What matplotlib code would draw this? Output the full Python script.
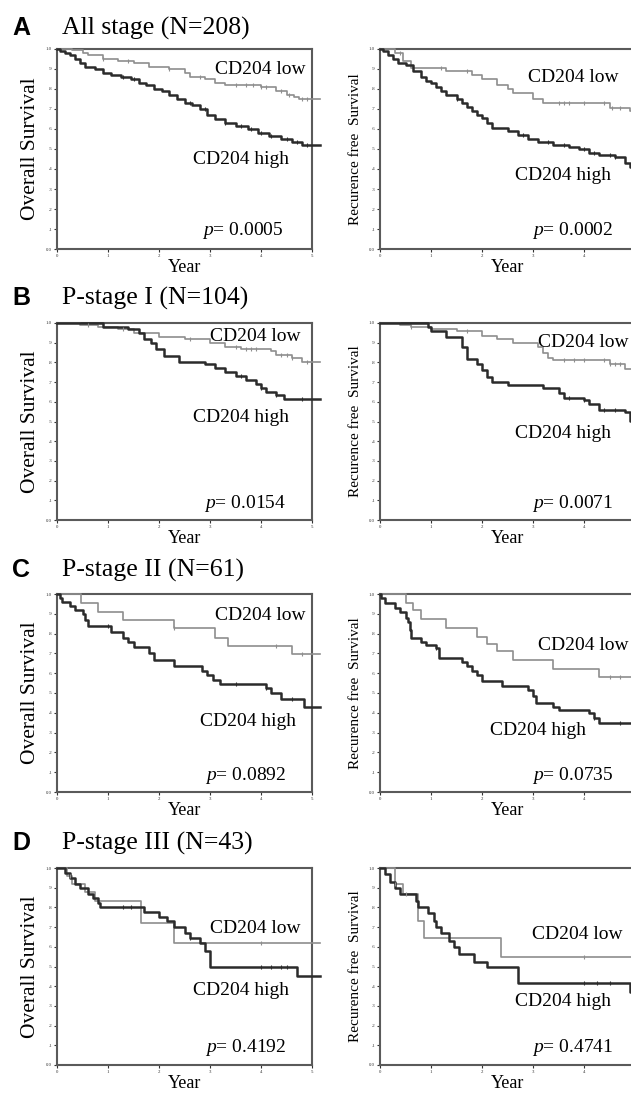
import numpy as np
import matplotlib
matplotlib.use("Agg")
import matplotlib.pyplot as plt

plt.rcParams['font.family'] = ['Liberation Serif', 'DejaVu Serif']
plt.rcParams['mathtext.fontset'] = 'custom'
plt.rcParams['mathtext.rm'] = 'Liberation Serif'
plt.rcParams['mathtext.it'] = 'Liberation Serif:italic'

W, H = 631, 1095

panel_letters = ['A', 'B', 'C', 'D']
panel_titles = ['All stage (N=208)', 'P-stage I (N=104)', 'P-stage II (N=61)', 'P-stage III (N=43)']
p_values = [('0.0005', '0.0002'), ('0.0154', '0.0071'), ('0.0892', '0.0735'), ('0.4192', '0.4741')]
ylabels = ['Overall Survival', 'Recurence free  Survival']
ytick_labels = ['0.0', '.1', '.2', '.3', '.4', '.5', '.6', '.7', '.8', '.9', '1.0']

# ---- step data (event time, survival after event) ----
# A, overall survival
a_os_high_t = [0.05, 0.15, 0.25, 0.35, 0.45, 0.55, 0.75, 0.9, 1.05, 1.25, 1.45, 1.6, 1.75, 1.9, 2.05, 2.2,
               2.35, 2.5, 2.65, 2.8, 2.95, 3.1, 3.3, 3.5, 3.75, 3.95, 4.15, 4.4, 4.6, 4.8]
a_os_high_s = [0.99, 0.98, 0.97, 0.95, 0.93, 0.91, 0.90, 0.88, 0.87, 0.86, 0.85, 0.83, 0.82, 0.80, 0.79, 0.77,
               0.75, 0.73, 0.72, 0.70, 0.67, 0.65, 0.63, 0.615, 0.60, 0.58, 0.565, 0.55, 0.535, 0.52]
a_os_high_c = [1.3, 1.5, 2.6, 2.9, 3.3, 3.6, 3.8, 4.0, 4.2, 4.5, 4.7, 4.9]
a_os_low_t = [0.3, 0.5, 0.6, 0.9, 1.2, 1.5, 1.8, 2.2, 2.5, 2.6, 2.9, 3.1, 3.3, 4.0, 4.3, 4.5, 4.65, 4.75]
a_os_low_s = [0.995, 0.98, 0.97, 0.95, 0.94, 0.93, 0.91, 0.90, 0.88, 0.86, 0.85, 0.83, 0.82, 0.81, 0.79, 0.77, 0.76, 0.75]
a_os_low_c = [0.9, 1.4, 2.2, 2.8, 3.5, 3.7, 3.85, 4.0, 4.1, 4.4, 4.55, 4.8, 4.9]

# A, recurrence free survival
a_rfs_high_t = [0.05, 0.15, 0.25, 0.35, 0.5, 0.65, 0.8, 0.9, 1.0, 1.1, 1.2, 1.3, 1.5, 1.6, 1.7, 1.8, 1.9, 2.0,
                2.1, 2.2, 2.5, 2.7, 2.9, 3.1, 3.4, 3.7, 3.9, 4.1, 4.3, 4.6, 4.8, 4.9]
a_rfs_high_s = [0.99, 0.97, 0.95, 0.93, 0.92, 0.89, 0.86, 0.84, 0.83, 0.81, 0.79, 0.77, 0.75, 0.73, 0.71, 0.69,
                0.67, 0.655, 0.63, 0.605, 0.59, 0.57, 0.55, 0.535, 0.52, 0.51, 0.50, 0.48, 0.47, 0.46, 0.43, 0.41]
a_rfs_high_c = [1.5, 2.8, 3.3, 3.6, 4.0, 4.2, 4.5, 4.6]
a_rfs_low_t = [0.3, 0.45, 0.6, 1.3, 1.8, 2.0, 2.3, 2.5, 2.6, 3.0, 3.2, 4.5, 4.9]
a_rfs_low_s = [0.98, 0.94, 0.905, 0.89, 0.87, 0.85, 0.82, 0.80, 0.78, 0.75, 0.73, 0.705, 0.69]
a_rfs_low_c = [0.4, 1.2, 1.7, 3.5, 3.6, 3.7, 4.0, 4.4, 4.55, 4.7]

# B, overall survival
b_os_high_t = [0.9, 1.4, 1.6, 1.7, 1.85, 1.95, 2.1, 2.4, 2.9, 3.1, 3.3, 3.5, 3.7, 3.9, 4.0, 4.1, 4.3, 4.45]
b_os_high_s = [0.98, 0.97, 0.95, 0.92, 0.90, 0.87, 0.83, 0.80, 0.79, 0.77, 0.75, 0.73, 0.71, 0.69, 0.67, 0.65, 0.635, 0.615]
b_os_high_c = [3.6, 4.0, 4.3, 4.8]
b_os_low_t = [0.45, 0.8, 1.2, 1.5, 2.0, 2.5, 3.0, 3.3, 3.6, 4.2, 4.3, 4.6, 4.8]
b_os_low_s = [0.99, 0.98, 0.97, 0.95, 0.93, 0.92, 0.90, 0.88, 0.87, 0.86, 0.84, 0.82, 0.80]
b_os_low_c = [0.6, 1.3, 2.6, 3.5, 3.7, 3.8, 3.9, 4.4, 4.5, 4.6, 4.9]

# B, recurrence free survival
b_rfs_high_t = [0.95, 1.0, 1.3, 1.6, 1.7, 1.9, 2.0, 2.1, 2.2, 2.5, 3.2, 3.5, 3.6, 4.0, 4.1, 4.3, 4.8, 4.9]
b_rfs_high_s = [0.98, 0.96, 0.93, 0.88, 0.815, 0.79, 0.76, 0.725, 0.70, 0.685, 0.67, 0.645, 0.62, 0.61, 0.59, 0.56, 0.55, 0.505]
b_rfs_high_c = [3.7, 4.0, 4.4, 4.6]
b_rfs_low_t = [0.4, 0.6, 1.0, 1.5, 2.0, 2.3, 2.6, 3.1, 3.2, 3.3, 3.4, 4.5, 4.8]
b_rfs_low_s = [0.99, 0.98, 0.97, 0.96, 0.935, 0.92, 0.90, 0.88, 0.85, 0.82, 0.81, 0.79, 0.765]
b_rfs_low_c = [0.6, 1.7, 3.6, 3.8, 4.0, 4.4, 4.5, 4.6, 4.7]

# C, overall survival
c_os_high_t = [0.05, 0.1, 0.25, 0.35, 0.5, 0.55, 0.6, 1.05, 1.3, 1.4, 1.5, 1.8, 1.9, 2.3, 2.85, 2.95,
               3.05, 3.2, 4.1, 4.2, 4.4, 4.85]
c_os_high_s = [0.98, 0.96, 0.94, 0.92, 0.90, 0.87, 0.84, 0.81, 0.78, 0.76, 0.73, 0.70, 0.665, 0.635, 0.61, 0.59,
               0.565, 0.545, 0.525, 0.50, 0.47, 0.43]
c_os_high_c = [1.0, 3.5, 4.1, 4.6]
c_os_low_t = [0.47, 0.8, 1.3, 2.3, 3.1, 3.35, 4.6]
c_os_low_s = [0.955, 0.91, 0.87, 0.83, 0.78, 0.735, 0.695]
c_os_low_c = [2.3, 4.3, 4.8]

# C, recurrence free survival
c_rfs_high_t = [0.02, 0.1, 0.3, 0.4, 0.5, 0.55, 0.58, 0.6, 0.8, 0.9, 1.1, 1.15, 1.6, 1.7, 1.8, 1.9, 2.0,
                2.4, 2.9, 3.0, 3.05, 3.4, 3.5, 4.1, 4.2, 4.3, 4.95]
c_rfs_high_s = [0.98, 0.955, 0.93, 0.91, 0.88, 0.86, 0.82, 0.78, 0.76, 0.74, 0.725, 0.675, 0.655, 0.635, 0.61,
                0.59, 0.56, 0.535, 0.515, 0.485, 0.45, 0.43, 0.415, 0.40, 0.375, 0.35, 0.31]
c_rfs_high_c = [1.1, 4.2, 4.7]
c_rfs_low_t = [0.5, 0.65, 0.8, 1.3, 1.9, 2.1, 2.3, 2.6, 3.4, 4.3]
c_rfs_low_s = [0.955, 0.92, 0.875, 0.83, 0.785, 0.745, 0.71, 0.665, 0.62, 0.58]
c_rfs_low_c = [4.5, 4.7]

# D, overall survival
d_os_high_t = [0.15, 0.25, 0.35, 0.45, 0.6, 0.7, 0.8, 0.85, 1.7, 2.0, 2.15, 2.3, 2.5, 2.6, 2.8, 2.9, 3.0, 4.7]
d_os_high_s = [0.975, 0.95, 0.92, 0.90, 0.87, 0.85, 0.82, 0.80, 0.775, 0.75, 0.73, 0.70, 0.67, 0.645, 0.62, 0.58, 0.50, 0.45]
d_os_high_c = [1.3, 1.45, 2.6, 4.0, 4.2, 4.4, 4.5]
d_os_low_t = [0.2, 0.3, 0.55, 0.75, 1.65, 2.3]
d_os_low_s = [0.96, 0.92, 0.88, 0.83, 0.72, 0.62]
d_os_low_c = [0.25, 4.0]

# D, recurrence free survival
d_rfs_high_t = [0.1, 0.2, 0.3, 0.4, 0.7, 0.75, 0.95, 1.05, 1.1, 1.2, 1.35, 1.45, 1.55, 1.85, 2.1, 2.7, 4.9]
d_rfs_high_s = [0.97, 0.93, 0.90, 0.87, 0.83, 0.80, 0.77, 0.73, 0.70, 0.67, 0.63, 0.60, 0.565, 0.525, 0.50, 0.415, 0.37]
d_rfs_high_c = [4.0, 4.25, 4.5]
d_rfs_low_t = [0.3, 0.45, 0.75, 0.87, 2.37]
d_rfs_low_s = [0.92, 0.87, 0.73, 0.645, 0.55]
d_rfs_low_c = [0.3, 0.5, 4.0]

curves = [
    [((a_os_high_t, a_os_high_s, a_os_high_c), (a_os_low_t, a_os_low_s, a_os_low_c)),
     ((a_rfs_high_t, a_rfs_high_s, a_rfs_high_c), (a_rfs_low_t, a_rfs_low_s, a_rfs_low_c))],
    [((b_os_high_t, b_os_high_s, b_os_high_c), (b_os_low_t, b_os_low_s, b_os_low_c)),
     ((b_rfs_high_t, b_rfs_high_s, b_rfs_high_c), (b_rfs_low_t, b_rfs_low_s, b_rfs_low_c))],
    [((c_os_high_t, c_os_high_s, c_os_high_c), (c_os_low_t, c_os_low_s, c_os_low_c)),
     ((c_rfs_high_t, c_rfs_high_s, c_rfs_high_c), (c_rfs_low_t, c_rfs_low_s, c_rfs_low_c))],
    [((d_os_high_t, d_os_high_s, d_os_high_c), (d_os_low_t, d_os_low_s, d_os_low_c)),
     ((d_rfs_high_t, d_rfs_high_s, d_rfs_high_c), (d_rfs_low_t, d_rfs_low_s, d_rfs_low_c))],
]

# ---- layout (pixels) ----
rows = [(49, 249), (323, 520), (594, 792), (868, 1065)]
cols = [57, 380]
axw = 255
title_y = [28, 298, 570, 843]
# label positions in axes fraction: (low x, low y, high x, high y, p right x, p y)
label_pos = [
    [(0.62, 0.895, 0.535, 0.445, 0.89, 0.095), (0.58, 0.855, 0.53, 0.37, 0.915, 0.095)],
    [(0.60, 0.93, 0.535, 0.52, 0.90, 0.085), (0.62, 0.90, 0.53, 0.44, 0.915, 0.085)],
    [(0.62, 0.89, 0.56, 0.355, 0.90, 0.085), (0.62, 0.74, 0.43, 0.31, 0.915, 0.085)],
    [(0.60, 0.695, 0.535, 0.38, 0.90, 0.087), (0.595, 0.66, 0.53, 0.32, 0.915, 0.087)],
]

HIGH_C = '#2b2b2b'
LOW_C = '#8e8e8e'
SPINE_C = '#5a5a5a'

fig = plt.figure(figsize=(W / 100, H / 100), dpi=100)


def draw_km(ax, t, s, c, color, lw):
    tt = np.concatenate([[0.0], t, [5.15]])
    ss = np.concatenate([[1.0], s, [s[-1]]])
    ax.step(tt, ss, where='post', color=color, lw=lw, clip_on=False, zorder=3)
    idx = np.searchsorted(tt, c, side='right') - 1
    ax.plot(c, ss[idx], ls='none', marker='|', ms=3, mew=0.8, color=color, clip_on=False, zorder=4)


for r in range(4):
    top, bot = rows[r]
    fig.text(12 / W, 1 - title_y[r] / H, panel_letters[r], fontsize=18, fontweight='bold',
             family='Liberation Sans', va='center', ha='left')
    fig.text(62 / W, 1 - title_y[r] / H, panel_titles[r], fontsize=18.5, va='center', ha='left')
    for ci in range(2):
        x0 = cols[ci]
        ax = fig.add_axes([x0 / W, 1 - bot / H, axw / W, (bot - top) / H])
        high, low = curves[r][ci]
        draw_km(ax, *low, LOW_C, 1.2)
        draw_km(ax, *high, HIGH_C, 1.8)
        ax.set_xlim(0, 5)
        ax.set_ylim(0, 1)
        ax.set_xticks(range(6))
        xl = [str(i) for i in range(6)]
        if ci == 1:
            xl[-1] = ''
        ax.set_xticklabels(xl)
        ax.set_yticks(np.linspace(0, 1, 11))
        ax.set_yticklabels(ytick_labels)
        ax.tick_params(length=2, width=0.8, labelsize=3.5, pad=1.5, colors='#333333')
        for sp in ax.spines.values():
            sp.set_color(SPINE_C)
            sp.set_linewidth(1.5)
        ax.set_xlabel('Year', fontsize=13, labelpad=1)
        if ci == 0:
            ax.set_ylabel(ylabels[0], fontsize=15.5, labelpad=4)
        else:
            ax.set_ylabel(ylabels[1], fontsize=11, labelpad=5)
        lx, ly, hx, hy, px, py = label_pos[r][ci]
        ax.text(lx, ly, 'CD204 low', transform=ax.transAxes, fontsize=14, va='center', ha='left',
                clip_on=False)
        ax.text(hx, hy, 'CD204 high', transform=ax.transAxes, fontsize=14, va='center', ha='left')
        ax.text(px, py, '$\\mathit{p}$= ' + p_values[r][ci], transform=ax.transAxes, fontsize=14,
                va='center', ha='right')

plt.savefig('out.png', dpi=100)
